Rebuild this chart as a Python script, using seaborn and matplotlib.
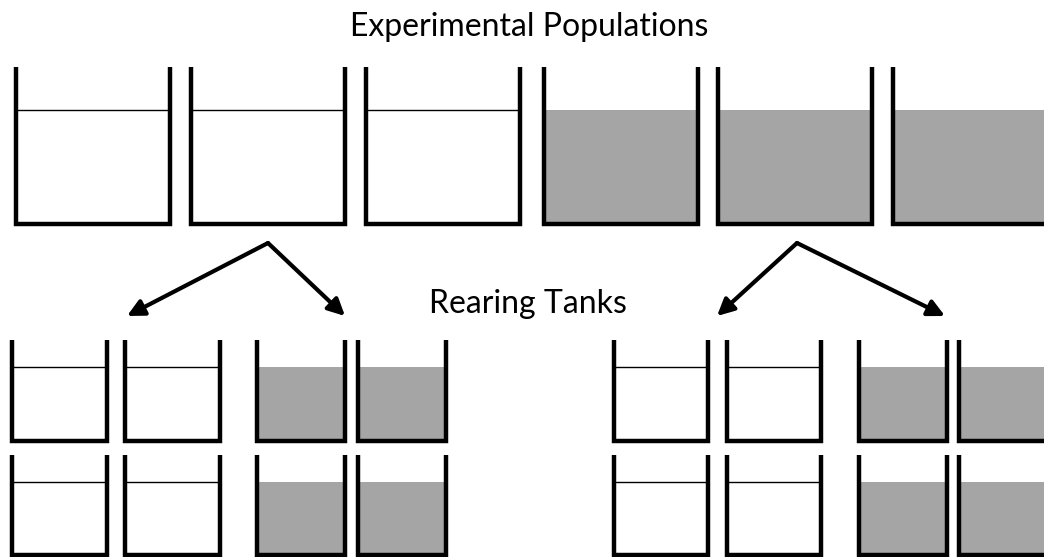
import matplotlib
matplotlib.use("Agg")
import matplotlib.pyplot as plt
import seaborn as sns

sns.set_style("white")
plt.rcParams['font.family'] = ['Lato', 'DejaVu Sans']

# top row: experimental populations (1 = grey filled water)
top_left = [16, 191, 366, 544, 718, 893]
top_filled = [0, 0, 0, 1, 1, 1]
top_width = 154
top_y = (67, 110, 224)  # wall top, water level, bottom

# rearing tanks, two rows
rear_left = [12, 125, 257, 358, 614, 727, 859, 959]
rear_width = [95, 95, 88, 88, 94, 94, 88, 88]
rear_filled = [0, 0, 1, 1, 0, 0, 1, 1]
rear_rows = [(340, 367, 441), (455, 482, 555)]

# arrows: apex -> tips
arrow_apex = [(268, 243), (797, 243)]
arrow_tips = [[(127, 316), (345, 316)], [(717, 316), (945, 316)]]

grey = '#a5a5a5'


def tank(ax, x, w, ytop, ywater, ybot, filled):
    if filled:
        ax.fill_between([x, x + w], ywater, ybot, color=grey, lw=0, zorder=1)
    else:
        ax.plot([x, x + w], [ywater, ywater], color='black', lw=1.0, zorder=2)
    ax.plot([x, x, x + w, x + w], [ytop, ybot, ybot, ytop], color='black',
            lw=3.2, solid_joinstyle='miter', solid_capstyle='butt', zorder=3)


fig = plt.figure(figsize=(10.44, 5.57), dpi=100)
ax = fig.add_axes([0, 0, 1, 1])
ax.set_xlim(0, 1044)
ax.set_ylim(557, 0)
ax.axis('off')

for x, f in zip(top_left, top_filled):
    tank(ax, x, top_width, *top_y, f)

for ytop, ywat, ybot in rear_rows:
    for x, w, f in zip(rear_left, rear_width, rear_filled):
        tank(ax, x, w, ytop, ywat, ybot, f)

for apex, tips in zip(arrow_apex, arrow_tips):
    for tip in tips:
        ax.annotate('', xy=tip, xytext=apex,
                    arrowprops=dict(arrowstyle='-|>,head_length=1.0,head_width=0.5',
                                    color='black', lw=3.0, shrinkA=0, shrinkB=0))

ax.text(529, 36, 'Experimental Populations', ha='center', va='baseline',
        fontsize=23, color='black')
ax.text(528, 313, 'Rearing Tanks', ha='center', va='baseline',
        fontsize=23, color='black')

fig.savefig('out.png', dpi=100)
